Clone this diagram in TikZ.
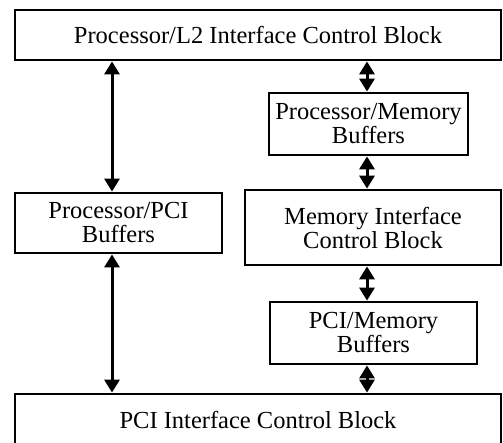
\documentclass[tikz,border=0pt]{standalone}
\usepackage{fontspec}
\setmainfont{Liberation Serif}
\usetikzlibrary{arrows.meta}
\begin{document}
\begin{tikzpicture}[x=1pt,y=-1pt,
  blk/.style={draw, line width=2.8pt, inner sep=0pt, align=center,
    font=\fontsize{24.5}{24}\selectfont},
  arr/.style={line width=3pt, {Triangle[width=15pt,length=13pt]}-{Triangle[width=15pt,length=13pt]}}]
\useasboundingbox (0,0) rectangle (503,442);
\fill[white] (0,0) rectangle (503,442);
\node[blk, minimum width=486pt, minimum height=50pt] (top) at (258,35) {Processor/L2 Interface Control Block};
\node[blk, minimum width=199pt, minimum height=62pt] (pm) at (368.5,124) {Processor/Memory\\Buffers};
\node[blk, minimum width=207pt, minimum height=60pt] (pp) at (118.5,223) {Processor/PCI\\Buffers};
\node[blk, minimum width=256pt, minimum height=75pt] (mi) at (373,227.5) {Memory Interface\\Control Block};
\node[blk, minimum width=207pt, minimum height=62pt] (cm) at (373.5,333) {PCI/Memory\\Buffers};
\node[blk, minimum width=486pt, minimum height=52pt] (pci) at (258,420) {PCI Interface Control Block};
\coordinate (xl) at (112,0);
\coordinate (xr) at (367,0);
\draw[arr] (top.south -| xl) -- (pp.north -| xl);
\draw[arr] (pp.south -| xl) -- (pci.north -| xl);
\draw[arr] (top.south -| xr) -- (pm.north -| xr);
\draw[arr] (pm.south -| xr) -- (mi.north -| xr);
\draw[arr] (mi.south -| xr) -- (cm.north -| xr);
\draw[arr] (cm.south -| xr) -- (pci.north -| xr);
\end{tikzpicture}
\end{document}
